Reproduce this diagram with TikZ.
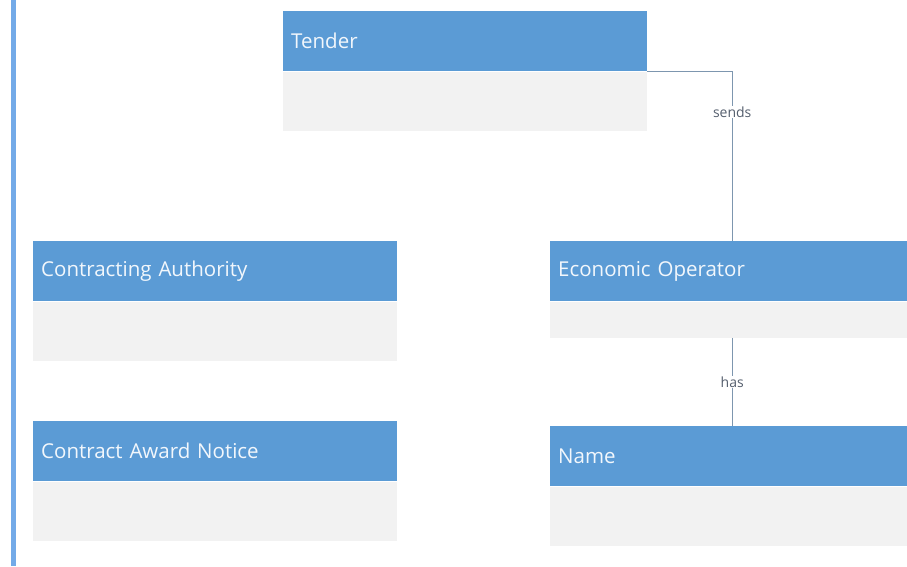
\documentclass[tikz,border=0pt]{standalone}
\usepackage{fontspec}
\setmainfont{Open Sans}
\usetikzlibrary{positioning, calc}
\definecolor{headblue}{RGB}{91,155,213}
\definecolor{bodygray}{RGB}{242,242,242}
\definecolor{barblue}{RGB}{115,170,232}
\definecolor{linkgray}{RGB}{125,150,175}
\definecolor{labelgray}{RGB}{85,95,110}

\tikzset{
  head/.style={fill=headblue, text=white!92!headblue, anchor=north west,
    minimum width=364pt, minimum height=60pt, text width=348pt, inner xsep=8pt,
    align=left, font=\fontsize{20.5}{23}\selectfont},
  body/.style={fill=bodygray, minimum width=364pt, inner sep=0pt},
  link/.style={linkgray, line width=0.9pt},
  linklabel/.style={fill=white, text=labelgray, inner sep=1pt,
    font=\fontsize{14}{16}\selectfont}
}

\begin{document}
\begin{tikzpicture}[x=1pt, y=-1pt]
  \useasboundingbox (0,0) rectangle (907,566);
  \clip (0,0) rectangle (907,566);

  % left margin bar
  \fill[barblue] (11,0) rectangle (16,566);

  % entities
  \node[head] (tender) at (283,11) {Tender};
  \node[body, minimum height=59pt, below=0pt of tender] (tenderbody) {};

  \node[head] (authority) at (33,241) {Contracting Authority};
  \node[body, minimum height=59pt, below=0pt of authority] (authoritybody) {};

  \node[head] (notice) at (33,421) {Contract Award Notice};
  \node[body, minimum height=59pt, below=0pt of notice] (noticebody) {};

  \node[head] (operator) at (550,241) {Economic Operator};
  \node[body, minimum height=36pt, below=0pt of operator] (operatorbody) {};

  \node[head] (name) at (550,426) {Name};
  \node[body, minimum height=59pt, below=0pt of name] (namebody) {};

  % relations
  \draw[link] (tender.south east) -| node[linklabel, pos=0.62] {sends} (operator.north);
  \draw[link] (operatorbody.south) -- node[linklabel] {has} (name.north);
\end{tikzpicture}
\end{document}
